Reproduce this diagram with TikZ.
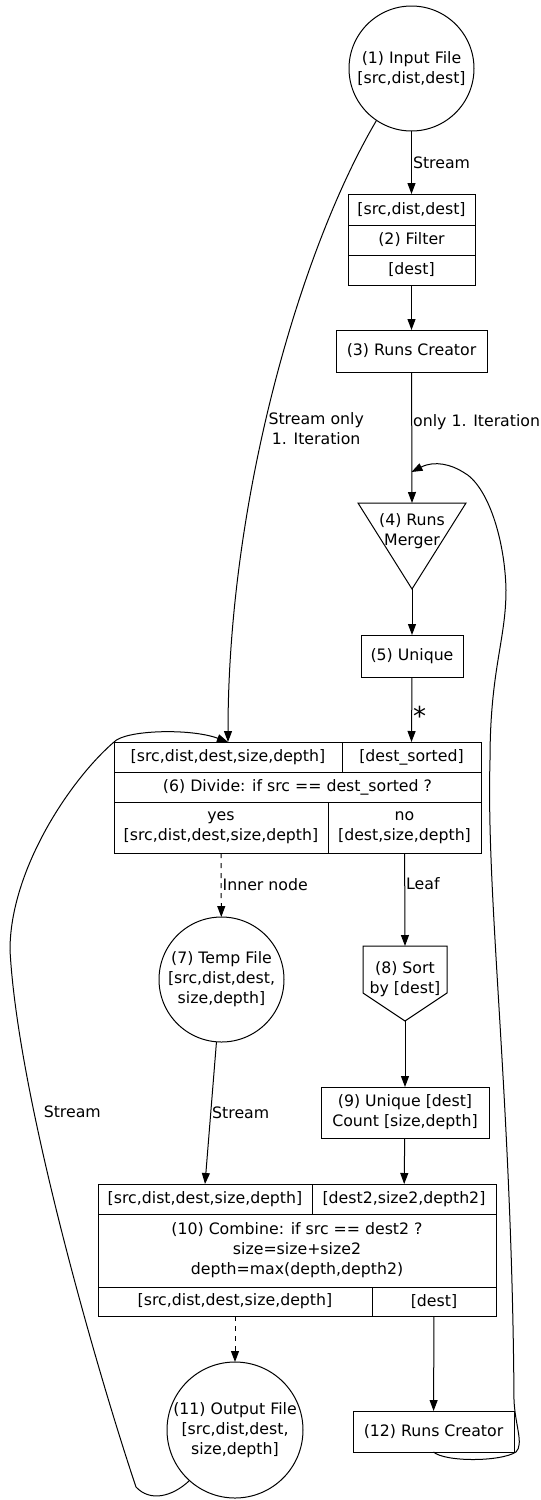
\documentclass[tikz,border=0pt]{standalone}
\usepackage{fontspec}
\setmainfont{DejaVu Sans}
\usetikzlibrary{arrows.meta}
\tikzset{fcirc/.style={draw, circle, inner sep=0pt, outer sep=0pt, minimum size=125pt, align=center}}
\tikzset{cell/.style={draw, rectangle, inner sep=0pt, outer sep=0pt, align=center}}
\tikzset{shp/.style={rectangle, inner sep=0pt, outer sep=0pt}}
\tikzset{arr/.style={-{Triangle[length=11pt,width=8pt]}}}
\tikzset{dsh/.style={dash pattern=on 5pt off 5pt}}
\tikzset{lbl/.style={inner sep=1pt}}

\begin{document}
\begin{tikzpicture}[x=1pt, y=-1pt, line width=1pt, font=\fontsize{15.75pt}{20pt}\selectfont]
\useasboundingbox (0,0) rectangle (541,1500);

% input, filter, runs
\node[fcirc] (n1) at (411.5,68.5) {(1) Input File\\{}[src,dist,dest]};
\node[cell, minimum width=127pt, minimum height=31pt] (n2a) at (411.5,209.5) {[src,dist,dest]};
\node[cell, minimum width=127pt, minimum height=30pt] (n2b) at (411.5,240) {(2) Filter};
\node[cell, minimum width=127pt, minimum height=30pt] (n2c) at (411.5,270) {[dest]};
\node[cell, minimum width=151pt, minimum height=42pt] (n3) at (411.5,351) {(3) Runs Creator};

\node[shp, minimum width=108pt, minimum height=86pt] (n4) at (412,546) {};
\draw (n4.north west) -- (n4.north east) -- (n4.south) -- cycle;
\node[align=center] (n4t) at (412,531.5) {(4) Runs\\Merger};
\coordinate (m4) at (411.5,472);

\node[cell, minimum width=102pt, minimum height=42pt] (n5) at (412,656) {(5) Unique};

% divide
\node[cell, minimum width=228pt, minimum height=30pt] (n6a) at (228,757) {[src,dist,dest,size,depth]};
\node[cell, minimum width=139pt, minimum height=30pt] (n6b) at (411.5,757) {[dest\_sorted]};
\node[cell, minimum width=367pt, minimum height=30pt] (n6c) at (297.5,787) {(6) Divide: if src == dest\_sorted ?};
\node[cell, minimum width=214pt, minimum height=51pt] (n6d) at (221,827.5) {yes\\{}[src,dist,dest,size,depth]};
\node[cell, minimum width=153pt, minimum height=51pt] (n6e) at (404.5,827.5) {no\\{}[dest,size,depth]};

\node[fcirc] (n7) at (221.5,979.5) {(7) Temp File\\{}[src,dist,dest,\\size,depth]};

\node[shp, minimum width=84pt, minimum height=75pt] (n8) at (405,983.5) {};
\draw (n8.north west) -- (n8.north east) -- ([yshift=28pt]n8.south east) -- (n8.south) -- ([yshift=28pt]n8.south west) -- cycle;
\node[align=center] (n8t) at (405,979) {(8) Sort\\by [dest]};

\node[cell, minimum width=168pt, minimum height=51pt] (n9) at (405,1112.5) {(9) Unique [dest]\\Count [size,depth]};

% combine
\node[cell, minimum width=214pt, minimum height=30pt] (n10a) at (205,1199) {[src,dist,dest,size,depth]};
\node[cell, minimum width=184pt, minimum height=30pt] (n10b) at (404,1199) {[dest2,size2,depth2]};
\node[cell, minimum width=398pt, minimum height=73pt] (n10c) at (297,1250.5) {(10) Combine: if src == dest2 ?\\size=size+size2\\depth=max(depth,depth2)};
\node[cell, minimum width=274pt, minimum height=29pt] (n10d) at (235,1301.5) {[src,dist,dest,size,depth]};
\node[cell, minimum width=124pt, minimum height=29pt] (n10e) at (434,1301.5) {[dest]};

\node[fcirc, minimum size=136pt] (n11) at (235,1430) {(11) Output File\\{}[src,dist,dest,\\size,depth]};
\node[cell, minimum width=161pt, minimum height=41pt] (n12) at (433.5,1431.5) {(12) Runs Creator};

% edges
\draw[arr] (n1) -- node[right, lbl] {Stream} (n2a);
\draw[arr] (n2c) -- (n3);
\draw[arr] (n3) -- node[pos=0.38, right, lbl] {only 1. Iteration} (n4.north);
\draw[arr] (n4.south) -- (n5);
\draw[arr] (n5.south) -- node[pos=0.6, right, lbl] {\fontsize{26pt}{26pt}\selectfont *} (n6b.north);
\draw[arr] (n1.236) .. controls (300,250) and (228,500) .. node[pos=0.56, right, inner sep=4pt, align=center] {Stream only\\1. Iteration} (n6a.north);
\draw[arr, dsh] (n6d) -- node[right, lbl] {Inner node} (n7);
\draw[arr] (n6e) -- node[pos=0.33, right, lbl] {Leaf} (n8.north);
\draw[arr] (n8.south) -- (n9);
\draw[arr] (n7) -- node[right, lbl] {Stream} (n10a.north);
\draw[arr] (n9) -- (n10b);
\draw[arr, dsh] (n10d) -- (n11);
\draw[arr] (n10e) -- (n12);
\draw[arr] (n11.228) .. controls (172,1497) and (150,1502) .. (136,1487)
  .. controls (100,1380) and (18,1100) .. node[pos=0.7, right=6pt] {Stream} (10,950)
  .. controls (10,870) and (70,780) .. (114,742)
  .. controls (125,730) and (190,728) .. (n6a.north);
\draw[arr] (n12.south) .. controls (445,1462) and (500,1462) .. (516,1452)
  .. controls (524,1444) and (515,1425) .. (514,1400)
  .. controls (512,1100) and (486,900) .. (490,760)
  .. controls (490,670) and (506,640) .. (506,590)
  .. controls (505,540) and (488,485) .. (463,472)
  .. controls (452,465) and (435,460) .. (m4);

\end{tikzpicture}
\end{document}
